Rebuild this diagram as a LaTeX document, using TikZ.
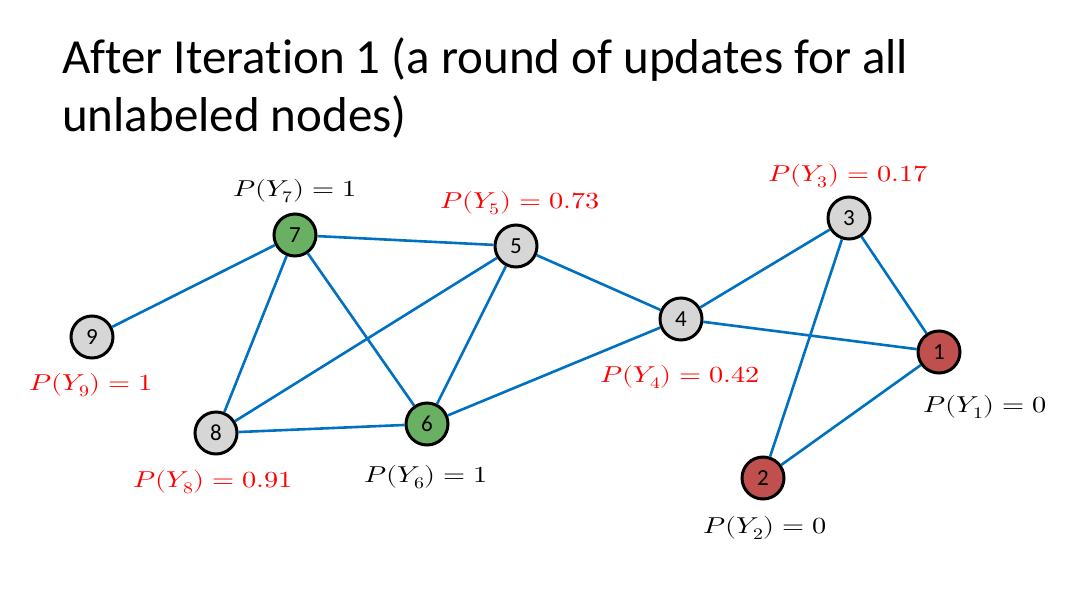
\documentclass[tikz,border=0pt]{standalone}
\usepackage{fontspec}
\usepackage{unicode-math}
\setmainfont{Carlito}[Ligatures=NoCommon]
\setmathfont{Latin Modern Math}
\definecolor{edgeblue}{RGB}{0,112,192}
\definecolor{ngray}{RGB}{214,214,214}
\definecolor{ngreen}{RGB}{106,176,99}
\definecolor{nred}{RGB}{192,80,77}
\definecolor{lred}{RGB}{255,0,0}
\newcommand{\wlab}[1]{\scalebox{1.23}[1]{$#1$}}
\tikzset{
  vtx/.style={circle,draw=black,line width=3pt,minimum size=42pt,inner sep=0pt,font=\fontsize{23}{25}\selectfont},
  gvtx/.style={vtx,fill=ngray},
  grvtx/.style={vtx,fill=ngreen},
  rvtx/.style={vtx,fill=nred},
  edge/.style={draw=edgeblue,line width=2.6pt},
  lab/.style={font=\fontsize{23}{26}\selectfont,inner sep=0pt},
  rlab/.style={lab,text=lred}
}
\begin{document}
\begin{tikzpicture}[x=1pt,y=-1pt]
\useasboundingbox (0,0) rectangle (1075,597);
\node[anchor=base west,inner sep=0pt,font=\fontsize{49}{58}\selectfont] (title) at (62,73) {After Iteration 1 (a round of updates for all};
\node[anchor=base west,inner sep=0pt,font=\fontsize{49}{58}\selectfont] (title2) at (62,131) {unlabeled nodes)};
% nodes
\node[grvtx] (n7) at (295,235) {7};
\node[gvtx] (n5) at (516,246) {5};
\node[gvtx] (n3) at (849,218) {3};
\node[gvtx] (n9) at (92,337) {9};
\node[gvtx] (n4) at (681,319) {4};
\node[rvtx] (n1) at (939,352) {1};
\node[gvtx] (n8) at (216,433) {8};
\node[grvtx] (n6) at (427,424) {6};
\node[rvtx] (n2) at (763,478) {2};
% edges
\path[edge] (n7) -- (n5);
\path[edge] (n7) -- (n9);
\path[edge] (n7) -- (n8);
\path[edge] (n7) -- (n6);
\path[edge] (n5) -- (n8);
\path[edge] (n5) -- (n6);
\path[edge] (n5) -- (n4);
\path[edge] (n4) -- (n3);
\path[edge] (n4) -- (n1);
\path[edge] (n4) -- (n6);
\path[edge] (n8) -- (n6);
\path[edge] (n3) -- (n1);
\path[edge] (n3) -- (n2);
\path[edge] (n1) -- (n2);
% labels
\node[lab] (l7) at (295,191) {\wlab{P(Y_7) = 1}};
\node[rlab] (l5) at (520,203) {\wlab{P(Y_5) = 0.73}};
\node[rlab] (l3) at (848,176) {\wlab{P(Y_3) = 0.17}};
\node[rlab] (l9) at (91,385) {\wlab{P(Y_9) = 1}};
\node[rlab] (l8) at (213,482) {\wlab{P(Y_8) = 0.91}};
\node[lab] (l6) at (426,477) {\wlab{P(Y_6) = 1}};
\node[rlab] (l4) at (680,377) {\wlab{P(Y_4) = 0.42}};
\node[lab] (l1) at (985,407) {\wlab{P(Y_1) = 0}};
\node[lab] (l2) at (765,528) {\wlab{P(Y_2) = 0}};
\end{tikzpicture}
\end{document}
